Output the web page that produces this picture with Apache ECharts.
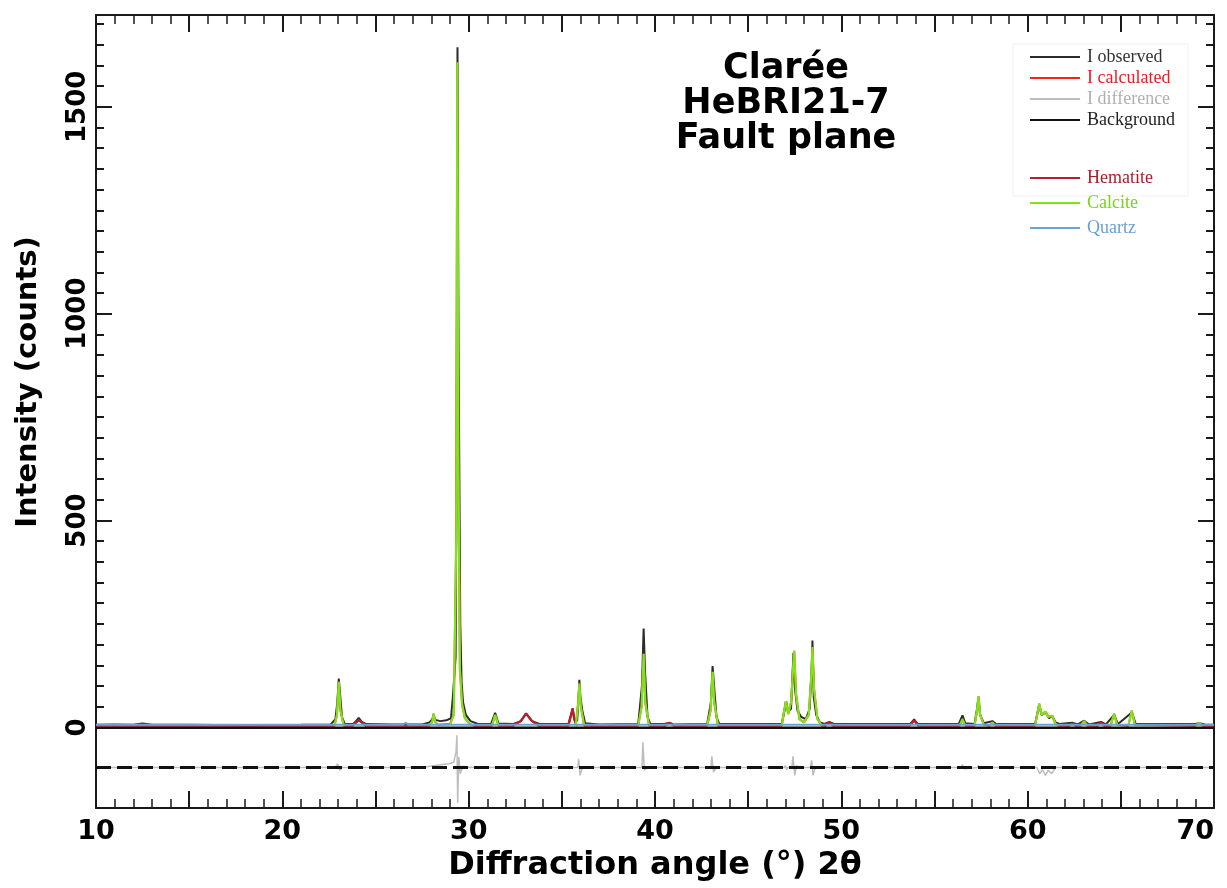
<!DOCTYPE html>
<html>
<head>
<meta charset="utf-8">
<title>HeBRI21-7 XRD</title>
<script src="https://cdn.jsdelivr.net/npm/echarts@6/dist/echarts.min.js"></script>
<style>
html, body { margin: 0; padding: 0; background: #fff; }
#xrd { width: 1227px; height: 888px; }
</style>
</head>
<body>
<div id="xrd"></div>
<script>
// gap marker: breaks a line between two peak segments
var GAP = ['-', '-'];

var observed = [
	[10,6],[11,7],[12,6],[12.5,9],[13,6],[15,6],[18,5],[21,6],[22.6,7],
	[22.85,20],[22.95,60],[23.03,118],[23.1,80],[23.2,25],[23.35,8],
	[23.8,8],[23.95,15],[24.1,23],[24.25,14],[24.5,8],
	[26,7],[27.5,7],[27.9,12],[28.05,20],[28.12,30],[28.2,18],[28.5,15],[28.8,17],[29.05,22],
	[29.15,73],[29.3,170],[29.36,700],[29.4,1644],[29.46,900],[29.55,250],[29.62,110],[29.7,60],[29.85,30],[30.1,15],[30.5,8],
	[31.2,8],[31.42,35],[31.6,9],
	[32.4,8],[32.8,15],[33.08,34],[33.4,15],[33.8,8],
	[35.35,8],[35.52,35],[35.58,45],[35.68,20],[35.82,15],[35.9,70],[35.94,115],[36.0,73],[36.1,40],[36.25,10],[37,7],
	[39.1,8],[39.3,100],[39.39,239],[39.47,130],[39.6,25],[39.75,8],
	[40.5,8],[40.77,11],[41.0,7],
	[42.8,8],[43.0,60],[43.09,148],[43.17,100],[43.3,25],[43.45,8],
	[46.8,8],[46.95,40],[47.03,63],[47.15,38],[47.3,45],[47.43,180],[47.5,97],[47.65,40],[47.85,25],
	[48.1,20],[48.3,45],[48.42,150],[48.45,210],[48.52,73],[48.65,30],[48.85,12],[49.1,8],
	[49.35,13],[49.6,8],
	[53.7,8],[53.91,19],[54.1,8],
	[56.3,8],[56.5,29],[56.65,10],[57.15,8],[57.3,50],[57.36,70],[57.45,30],[57.65,10],[58.11,15],[58.3,8],
	[60.4,8],[60.55,40],[60.62,52],[60.75,30],[60.98,36],[61.15,22],[61.31,28],[61.5,12],[61.7,8],
	[62.39,11],[62.7,7],[63.03,16],[63.3,7],[63.93,13],[64.2,7],[64.64,30],[64.85,8],[65.59,36],[65.8,8],
	[69.0,8],[69.2,10],[69.5,7],[70,6]
];

var calculated = [
	[10,4],[22.8,4],[22.93,30],[23.03,110],[23.12,40],[23.3,4],[23.75,4],[24.1,17],[24.5,4],
	[27.9,4],[28.05,15],[28.12,33],[28.2,14],[28.35,6],[29.0,8],[29.2,32],[29.33,450],[29.39,1608],[29.45,650],
	[29.53,140],[29.65,55],[29.8,22],[30.05,8],[30.3,4],
	[31.25,4],[31.42,30],[31.6,4],[32.35,4],[32.8,15],[33.08,33],[33.4,15],[33.8,4],
	[35.35,4],[35.5,30],[35.58,46],[35.66,20],[35.75,8],[35.88,60],[35.94,106],[36.02,50],[36.2,4],
	[39.1,4],[39.28,50],[39.39,178],[39.48,60],[39.68,4],[40.5,4],[40.77,11],[41.05,4],
	[42.8,4],[42.98,40],[43.09,134],[43.18,60],[43.38,4],
	[46.8,4],[46.95,45],[47.03,63],[47.15,32],[47.3,60],[47.47,185],[47.57,80],[47.75,20],[48.0,12],
	[48.25,30],[48.38,120],[48.45,194],[48.54,90],[48.72,20],[48.95,4],[49.1,4],[49.35,13],[49.6,4],
	[53.65,4],[53.91,17],[54.15,4],[56.35,4],[56.5,20],[56.65,4],[57.15,4],[57.28,40],[57.36,75],[57.45,30],
	[57.65,6],[57.95,4],[58.11,12],[58.25,4],
	[60.4,4],[60.55,40],[60.62,57],[60.75,30],[60.95,38],[61.1,25],[61.31,28],[61.5,8],[61.65,4],
	[62.15,4],[62.39,9],[62.65,4],[62.85,4],[63.03,15],[63.2,4],[63.7,4],[63.93,11],[64.15,4],
	[64.45,4],[64.64,33],[64.8,6],[65.4,4],[65.59,40],[65.75,6],
	[69.0,4],[69.2,10],[69.4,4],[70,4]
];

// observed - calculated, drawn with an offset of -97
var difference = [
	[10,-97],[22.85,-97],[22.97,-88],[23.08,-104],[23.2,-97],[27.5,-97],[28.1,-93],[28.6,-90],[28.95,-88],
	[29.2,-84],[29.32,-60],[29.37,-19],[29.41,-183],[29.47,-72],[29.55,-112],[29.7,-94],[30.1,-97],
	[33.0,-97],[33.13,-102],[33.3,-97],
	[35.85,-97],[35.9,-76],[35.98,-116],[36.1,-97],
	[39.3,-97],[39.35,-36],[39.43,-104],[39.55,-97],
	[43.0,-97],[43.05,-70],[43.14,-108],[43.3,-97],
	[46.95,-97],[47.0,-92],[47.06,-103],[47.12,-97],[47.35,-97],[47.4,-70],[47.5,-116],[47.6,-92],[47.7,-97],
	[48.35,-97],[48.4,-80],[48.48,-116],[48.6,-97],
	[56.45,-97],[56.5,-90],[56.6,-100],[56.7,-97],[57.3,-97],[57.35,-92],[57.45,-100],[57.6,-97],
	[60.5,-97],[60.55,-100],[60.65,-112],[60.8,-102],[60.95,-116],[61.1,-104],[61.3,-112],[61.5,-97],[70,-97]
];
var diffZero = [[10,-97],[70,-97]];
var background = [[10,-1],[70,-1]];

var hematite = [
	[23.75,3],[24.1,17],[24.5,3],GAP,
	[32.35,3],[32.8,15],[33.08,33],[33.4,15],[33.8,3],GAP,
	[35.35,3],[35.5,30],[35.58,46],[35.66,20],[35.8,3],GAP,
	[40.5,3],[40.77,10],[41.05,3],GAP,
	[49.1,3],[49.35,12],[49.6,3],GAP,
	[53.65,3],[53.91,16],[54.15,3],GAP,
	[62.15,3],[62.39,8],[62.65,3],GAP,
	[63.7,3],[63.93,10],[64.15,3]
];

var calcite = [
	[22.8,4],[22.93,30],[23.03,110],[23.12,40],[23.3,4],GAP,
	[27.9,4],[28.05,15],[28.12,33],[28.2,14],[28.35,6],GAP,
	[29.0,6],[29.2,30],[29.33,450],[29.39,1608],[29.45,650],[29.53,140],[29.65,55],[29.8,22],[30.05,8],[30.3,4],GAP,
	[31.25,4],[31.42,30],[31.6,4],GAP,
	[35.75,4],[35.88,60],[35.94,106],[36.02,50],[36.2,4],GAP,
	[39.1,4],[39.28,50],[39.39,178],[39.48,60],[39.68,4],GAP,
	[42.8,4],[42.98,40],[43.09,134],[43.18,60],[43.38,4],GAP,
	[46.8,4],[46.95,45],[47.03,63],[47.15,32],[47.3,60],[47.47,185],[47.57,80],[47.75,20],[48.0,12],
	[48.25,30],[48.38,120],[48.45,194],[48.54,90],[48.72,20],[48.95,4],GAP,
	[56.35,4],[56.5,20],[56.65,4],GAP,
	[57.15,4],[57.28,40],[57.36,75],[57.45,30],[57.65,6],GAP,
	[57.95,4],[58.11,12],[58.25,4],GAP,
	[60.4,4],[60.55,40],[60.62,57],[60.75,30],[60.95,38],[61.1,25],[61.31,28],[61.5,8],[61.65,4],GAP,
	[62.85,4],[63.03,15],[63.2,4],GAP,
	[64.45,4],[64.64,33],[64.8,6],GAP,
	[65.4,4],[65.59,40],[65.75,6],GAP,
	[69.0,4],[69.2,10],[69.4,4]
];

var quartz = [[10,6],[26.45,6],[26.62,11],[26.8,6],[70,6]];

var yMajor = [0, 500, 1000, 1500];
var yMinor = [];
for (var v = 50; v <= 1700; v += 50) yMinor.push(v);

var sampleTitle = 'Clarée\nHeBRI21-7\nFault plane';

var C = {
	obs: '#2b2b2b', calc: '#ff2020', diff: '#bdbdbd', bg: '#111111',
	hem: '#b3222c', cal: '#7fe31c', qtz: '#6aa3d8'
};

var sans = 'DejaVu Sans';
var axisCol = '#1a1a1a';

function xAx(pos, labels) {
	return {
		type: 'value', position: pos, min: 10, max: 70, interval: 5,
		axisLine: { show: true, onZero: false, lineStyle: { color: axisCol, width: 2 } },
		axisTick: { show: true, inside: true, length: 17, lineStyle: { color: axisCol, width: 2 } },
		minorTick: { show: true, splitNumber: 5, length: 9, lineStyle: { color: axisCol, width: 1.5 } },
		axisLabel: {
			show: labels, margin: 10, color: '#000', fontFamily: sans, fontWeight: 'bold', fontSize: 27,
			alignMaxLabel: 'right',
			formatter: function (val) { return val % 10 === 0 ? String(val) : ''; }
		},
		splitLine: { show: false },
		name: labels ? 'Diffraction angle (°) 2θ' : '',
		nameLocation: 'middle', nameGap: 41,
		nameTextStyle: { color: '#000', fontFamily: sans, fontWeight: 'bold', fontSize: 32 }
	};
}

function yAx(pos, ticks, len, labels, line) {
	return {
		type: 'value', position: pos, min: -195, max: 1722,
		axisLine: { show: line, onZero: false, lineStyle: { color: axisCol, width: 2 } },
		axisTick: { show: true, inside: true, length: len, customValues: ticks, lineStyle: { color: axisCol, width: 2 } },
		axisLabel: {
			show: labels, customValues: yMajor, rotate: 90, margin: 5, color: '#000',
			fontFamily: sans, fontWeight: 'bold', fontSize: 26,
			formatter: function (val) { return String(val); }
		},
		splitLine: { show: false }
	};
}

var chart = echarts.init(document.getElementById('xrd'));

function line(name, data, color, width, z, extra) {
	var s = {
		name: name, type: 'line', data: data, symbol: 'none', connectNulls: false,
		xAxisIndex: 0, yAxisIndex: 0, z: z,
		lineStyle: { color: color, width: width },
		itemStyle: { color: color },
		emphasis: { disabled: true }
	};
	if (extra) for (var k in extra) s.lineStyle[k] = extra[k];
	return s;
}

chart.setOption({
	animation: false,
	grid: { left: 96, right: 13, top: 15, bottom: 80, containLabel: false, outerBoundsMode: 'none' },
	graphic: [
		{ type: 'rect', shape: { x: 1013, y: 44, width: 175, height: 152 },
			style: { fill: 'none', stroke: '#f0f0f0', lineWidth: 1 }, z: 1 },
		{ type: 'text', x: 786, y: 51, z: 10,
			style: { text: sampleTitle, textAlign: 'center', fill: '#000',
				font: 'bold 35px "DejaVu Sans"', lineHeight: 35 } },
		{ type: 'text', x: 28, y: 382, rotation: Math.PI / 2, z: 10,
			style: { text: 'Intensity (counts)', textAlign: 'center', textVerticalAlign: 'middle',
				fill: '#000', font: 'bold 29px "DejaVu Sans"' } }
	],
	legend: [
		{
			orient: 'vertical', left: 1025, top: 43, itemWidth: 50, itemHeight: 2, itemGap: 3,
			icon: 'rect', selectedMode: false,
			textStyle: { fontFamily: 'Liberation Serif', fontSize: 18, padding: [0, 0, 0, 2] },
			data: [
				{ name: 'I observed', textStyle: { color: '#333' } },
				{ name: 'I calculated', textStyle: { color: '#ee1c1c' } },
				{ name: 'I difference', textStyle: { color: '#b0b0b0' } },
				{ name: 'Background', textStyle: { color: '#222' } }
			]
		},
		{
			orient: 'vertical', left: 1025, top: 164, itemWidth: 50, itemHeight: 2, itemGap: 7,
			icon: 'rect', selectedMode: false,
			textStyle: { fontFamily: 'Liberation Serif', fontSize: 18, padding: [0, 0, 0, 2] },
			data: [
				{ name: 'Hematite', textStyle: { color: '#a81e28' } },
				{ name: 'Calcite', textStyle: { color: '#76d41a' } },
				{ name: 'Quartz', textStyle: { color: '#6a9fd0' } }
			]
		}
	],
	xAxis: [xAx('bottom', true), xAx('top', false)],
	yAxis: [
		yAx('left', yMajor, 16, true, true),
		yAx('left', yMinor, 8, false, false),
		yAx('right', yMajor, 16, false, true),
		yAx('right', yMinor, 8, false, false)
	],
	series: [
		line('I observed', observed, C.obs, 2, 2),
		line('I calculated', calculated, C.calc, 2, 3),
		line('I difference', difference, C.diff, 1.5, 2),
		line('', diffZero, '#111', 3, 4, { type: [15, 6] }),
		line('Hematite', hematite, C.hem, 2, 5),
		line('Calcite', calcite, C.cal, 2.2, 6),
		line('Quartz', quartz, C.qtz, 2, 7),
		line('Background', background, C.bg, 2.5, 8)
	]
});
</script>
</body>
</html>
